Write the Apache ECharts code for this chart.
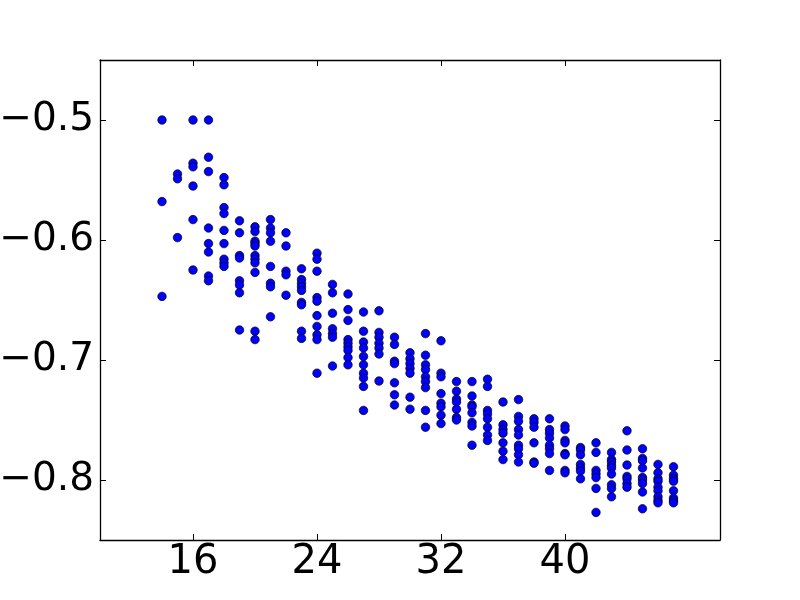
<!DOCTYPE html>
<html lang="en">

<head>
    <meta charset="UTF-8">
    <title>scatter</title>
    <script src="https://cdn.jsdelivr.net/npm/echarts@6/dist/echarts.min.js"></script>
    <style>
        body { margin: 0; background: #fff; }
    </style>
</head>

<body>
    <div id="main" style="width: 800px;height:600px;"></div>

    <script type="text/javascript">
        // x position of each column of points
        var columns = [14, 15, 16, 17, 18, 19, 20, 21, 22, 23, 24, 25, 26, 27, 28, 29, 30,
            31, 32, 33, 34, 35, 36, 37, 38, 39, 40, 41, 42, 43, 44, 45, 46, 47];

        var yValues = [
            [-0.5, -0.568, -0.647],
            [-0.545, -0.549, -0.598],
            [-0.5, -0.536, -0.539, -0.555, -0.583, -0.625],
            [-0.5, -0.531, -0.543, -0.59, -0.603, -0.61, -0.63, -0.634],
            [-0.548, -0.554, -0.573, -0.578, -0.592, -0.603, -0.616, -0.619, -0.622],
            [-0.584, -0.594, -0.613, -0.615, -0.634, -0.6375, -0.644, -0.675],
            [-0.589, -0.593, -0.601, -0.603, -0.605, -0.613, -0.616, -0.619, -0.627, -0.676, -0.683],
            [-0.583, -0.59, -0.594, -0.601, -0.622, -0.636, -0.639, -0.664],
            [-0.594, -0.605, -0.626, -0.629, -0.646],
            [-0.624, -0.633, -0.636, -0.639, -0.642, -0.652, -0.654, -0.676, -0.682],
            [-0.611, -0.616, -0.626, -0.648, -0.651, -0.663, -0.672, -0.679, -0.683, -0.711],
            [-0.637, -0.644, -0.661, -0.674, -0.678, -0.681, -0.705],
            [-0.645, -0.658, -0.667, -0.683, -0.686, -0.689, -0.692, -0.698, -0.704],
            [-0.66, -0.676, -0.685, -0.69, -0.697, -0.704, -0.711, -0.715, -0.722, -0.742],
            [-0.659, -0.677, -0.681, -0.686, -0.69, -0.695, -0.7175],
            [-0.681, -0.687, -0.701, -0.703, -0.719, -0.729, -0.7375],
            [-0.694, -0.699, -0.703, -0.707, -0.711, -0.731, -0.741],
            [-0.678, -0.696, -0.704, -0.708, -0.714, -0.718, -0.723, -0.742, -0.756],
            [-0.684, -0.711, -0.714, -0.728, -0.736, -0.739, -0.746, -0.753],
            [-0.718, -0.726, -0.7325, -0.735, -0.741, -0.748, -0.75],
            [-0.718, -0.73, -0.7375, -0.739, -0.744, -0.752, -0.755, -0.771],
            [-0.716, -0.722, -0.742, -0.745, -0.749, -0.756, -0.7625, -0.767],
            [-0.735, -0.754, -0.758, -0.761, -0.769, -0.776, -0.783],
            [-0.733, -0.747, -0.751, -0.758, -0.7625, -0.771, -0.774, -0.779, -0.785],
            [-0.749, -0.752, -0.756, -0.769, -0.785, -0.786],
            [-0.749, -0.758, -0.761, -0.765, -0.771, -0.774, -0.778, -0.792],
            [-0.755, -0.758, -0.767, -0.769, -0.778, -0.779, -0.792, -0.794],
            [-0.773, -0.775, -0.779, -0.787, -0.79, -0.7925, -0.799],
            [-0.769, -0.777, -0.792, -0.795, -0.798, -0.807, -0.827],
            [-0.777, -0.783, -0.785, -0.788, -0.79, -0.795, -0.804, -0.807, -0.814],
            [-0.759, -0.775, -0.7875, -0.797, -0.799, -0.803, -0.806],
            [-0.774, -0.782, -0.784, -0.79, -0.798, -0.8, -0.803, -0.81, -0.824],
            [-0.787, -0.794, -0.799, -0.801, -0.806, -0.809, -0.814, -0.817, -0.819],
            [-0.789, -0.796, -0.799, -0.801, -0.809, -0.815, -0.817, -0.819]
        ];

        var xTicks = [16, 24, 32, 40];
        var yTicks = [-0.8, -0.7, -0.6, -0.5];

        var points = [];
        columns.forEach(function (x, i) {
            yValues[i].forEach(function (y) {
                points.push([x, y]);
            });
        });

        var fontFamily = '"DejaVu Sans", sans-serif';
        var tickStyle = { show: true, inside: true, length: 6, lineStyle: { color: '#000', width: 1 } };
        var lineStyle = { show: true, onZero: false, lineStyle: { color: '#000', width: 1.3 } };

        function yLabel(v) {
            // matplotlib uses a real minus sign
            return (v < 0 ? '\u2212' : '') + Math.abs(v).toFixed(1);
        }

        var myChart = echarts.init(document.getElementById('main'), null, { renderer: 'canvas' });

        var option = {
            backgroundColor: '#fff',
            animation: false,
            grid: { left: 100, right: 80, top: 60, bottom: 60, outerBoundsMode: 'none', containLabel: false },
            xAxis: [{
                type: 'value',
                position: 'bottom',
                min: 10,
                max: 50,
                axisLine: lineStyle,
                axisTick: Object.assign({ customValues: xTicks }, tickStyle),
                axisLabel: {
                    customValues: xTicks,
                    color: '#000',
                    fontSize: 40,
                    fontFamily: fontFamily,
                    margin: 3
                },
                splitLine: { show: false }
            }, {
                type: 'value',
                position: 'top',
                min: 10,
                max: 50,
                axisLine: lineStyle,
                axisTick: Object.assign({ customValues: xTicks }, tickStyle),
                axisLabel: { show: false },
                splitLine: { show: false }
            }],
            yAxis: [{
                type: 'value',
                position: 'left',
                min: -0.85,
                max: -0.45,
                axisLine: lineStyle,
                axisTick: Object.assign({ customValues: yTicks }, tickStyle),
                axisLabel: {
                    customValues: yTicks,
                    color: '#000',
                    fontSize: 39,
                    fontFamily: fontFamily,
                    margin: 6,
                    formatter: yLabel
                },
                splitLine: { show: false }
            }, {
                type: 'value',
                position: 'right',
                min: -0.85,
                max: -0.45,
                axisLine: lineStyle,
                axisTick: Object.assign({ customValues: yTicks }, tickStyle),
                axisLabel: { show: false },
                splitLine: { show: false }
            }],
            series: [{
                type: 'scatter',
                xAxisIndex: 0,
                yAxisIndex: 0,
                data: points,
                symbol: 'circle',
                symbolSize: 8.5,
                itemStyle: {
                    color: '#0000ff',
                    borderColor: '#000',
                    borderWidth: 0.7,
                    opacity: 1
                }
            }]
        };

        myChart.setOption(option);
    </script>
</body>

</html>
